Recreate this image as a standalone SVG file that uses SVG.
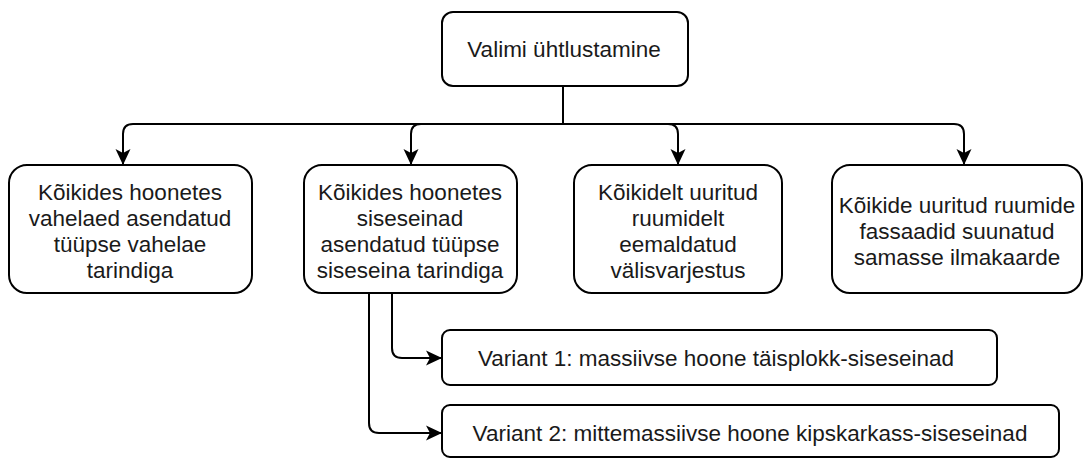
<svg xmlns="http://www.w3.org/2000/svg" width="1089" height="458" viewBox="0 0 1089 458">
  <defs>
    <marker id="arrow" viewBox="0 0 16 16" refX="15" refY="8" markerWidth="16" markerHeight="16" markerUnits="userSpaceOnUse" orient="auto">
      <path d="M0,0.5 L16,8 L0,15.5 L4,8 Z" fill="#000"/>
    </marker>
  </defs>
  <style>
    .box { fill: #fff; stroke: #000; stroke-width: 2; }
    .edge { fill: none; stroke: #000; stroke-width: 2; }
    text { font-family: "Liberation Sans", Arial, sans-serif; font-size: 22.5px; fill: #1a1a1a; text-anchor: middle; }
  </style>

  <g id="connectors">
    <!-- trunk from root down to the bus -->
    <path class="edge" d="M563,86 V124"/>
    <!-- bus to each top-level node -->
    <path class="edge" d="M563,124 H133 Q123,124 123,134 V164" marker-end="url(#arrow)"/>
    <path class="edge" d="M563,124 H421 Q411,124 411,134 V164" marker-end="url(#arrow)"/>
    <path class="edge" d="M563,124 H668 Q678,124 678,134 V164" marker-end="url(#arrow)"/>
    <path class="edge" d="M563,124 H954 Q964,124 964,134 V164" marker-end="url(#arrow)"/>
    <!-- variants below the inner-wall node -->
    <path class="edge" d="M392,293 V348 Q392,358 402,358 H441" marker-end="url(#arrow)"/>
    <path class="edge" d="M369,293 V423 Q369,433 379,433 H441" marker-end="url(#arrow)"/>
  </g>

  <g id="root">
    <rect class="box" x="442" y="12" width="246" height="74" rx="11"/>
    <text x="564" y="57">Valimi ühtlustamine</text>
  </g>

  <g id="node-vahelaed">
    <rect class="box" x="9" y="165" width="243" height="128" rx="18"/>
    <text x="130" y="200">Kõikides hoonetes</text>
    <text x="130" y="226">vahelaed asendatud</text>
    <text x="130" y="252">tüüpse vahelae</text>
    <text x="130" y="278">tarindiga</text>
  </g>

  <g id="node-siseseinad">
    <rect class="box" x="304" y="165" width="213" height="128" rx="18"/>
    <text x="410" y="200">Kõikides hoonetes</text>
    <text x="410" y="226">siseseinad</text>
    <text x="410" y="252">asendatud tüüpse</text>
    <text x="410" y="278">siseseina tarindiga</text>
  </g>

  <g id="node-valisvarjestus">
    <rect class="box" x="574" y="165" width="208" height="128" rx="18"/>
    <text x="678" y="200">Kõikidelt uuritud</text>
    <text x="678" y="226">ruumidelt</text>
    <text x="678" y="252">eemaldatud</text>
    <text x="678" y="278">välisvarjestus</text>
  </g>

  <g id="node-fassaadid">
    <rect class="box" x="832" y="165" width="250" height="128" rx="18"/>
    <text x="957" y="213">Kõikide uuritud ruumide</text>
    <text x="957" y="239">fassaadid suunatud</text>
    <text x="957" y="265">samasse ilmakaarde</text>
  </g>

  <g id="variant-1">
    <rect class="box" x="442" y="330" width="555" height="55" rx="8"/>
    <text x="716" y="366">Variant 1: massiivse hoone täisplokk-siseseinad</text>
  </g>

  <g id="variant-2">
    <rect class="box" x="442" y="405" width="617" height="52" rx="8"/>
    <text x="750" y="441">Variant 2: mittemassiivse hoone kipskarkass-siseseinad</text>
  </g>
</svg>
